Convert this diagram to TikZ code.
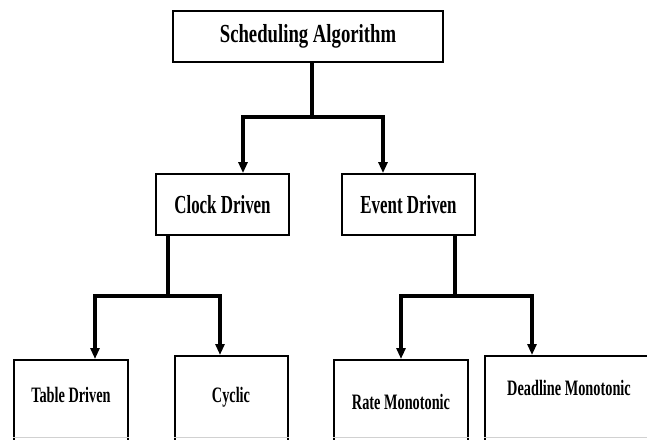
\documentclass[tikz,border=0pt]{standalone}
\usepackage{fontspec}
\setmainfont{Liberation Serif}
\newfontfamily\fwide[FakeStretch=0.72]{Liberation Serif}
\newfontfamily\fcond[FakeStretch=0.65]{Liberation Serif}
\usetikzlibrary{arrows.meta}
\begin{document}
\begin{tikzpicture}[x=1pt,y=-1pt,
  box/.style={draw=black, line width=1.8pt, inner sep=0pt, rectangle},
  stem/.style={line width=3.2pt},
  conn/.style={line width=3.2pt, line join=miter, -{Triangle[width=9pt,length=11pt]}},
  bigtxt/.style={font=\fwide\bfseries\fontsize{26}{26}\selectfont},
  midtxt/.style={font=\fcond\bfseries\fontsize{26}{26}\selectfont},
  smalltxt/.style={font=\fcond\bfseries\fontsize{22}{22}\selectfont, inner sep=0pt},
  cutedge/.style={draw=black!18, line width=1.2pt}]
\useasboundingbox (0,0) rectangle (647,439);
\clip (0,0) rectangle (647,439);

% boxes
\node[box, bigtxt, minimum width=270pt, minimum height=51pt] (top) at (308,36.5) {Scheduling Algorithm};
\node[box, midtxt, minimum width=133pt, minimum height=61pt] (clock) at (222.5,204.5) {Clock Driven};
\node[box, midtxt, minimum width=133pt, minimum height=61pt] (event) at (408.5,204.5) {Event Driven};

\node[box, anchor=north west, minimum width=114pt, minimum height=100pt] (tbl) at (13,359) {};
\node[box, anchor=north west, minimum width=113pt, minimum height=100pt] (cyc) at (174,355) {};
\node[box, anchor=north west, minimum width=134pt, minimum height=100pt] (rate) at (333,359) {};
\node[box, anchor=north west, minimum width=170pt, minimum height=100pt] (dead) at (484,355) {};

\coordinate (cut) at (0,437.6);
\draw[cutedge] (tbl.west |- cut) -- (tbl.east |- cut);
\draw[cutedge] (cyc.west |- cut) -- (cyc.east |- cut);
\draw[cutedge] (rate.west |- cut) -- (rate.east |- cut);
\draw[cutedge] (dead.west |- cut) -- (dead.east |- cut);

% labels of the bottom boxes
\node[smalltxt] (tblt) at (71,395) {Table Driven};
\node[smalltxt] (cyct) at (231,397) {Cyclic};
\node[smalltxt] (ratet) at (401,402) {Rate Monotonic};
\node[smalltxt] (deadt) at (569,388) {Deadline Monotonic};

% junctions
\coordinate (j0) at (312,117);
\coordinate (jc) at (243,117);
\coordinate (je) at (383,117);
\coordinate (k0) at (168,296);
\coordinate (kt) at (95,296);
\coordinate (kc) at (220,296);
\coordinate (m0) at (455,296);
\coordinate (mr) at (401,296);
\coordinate (md) at (532,296);

% connectors
\draw[stem] (top.south -| j0) -- (j0);
\draw[conn] (j0) -| (jc |- clock.north);
\draw[conn] (j0) -| (je |- event.north);

\draw[stem] (clock.south -| k0) -- (k0);
\draw[conn] (k0) -| (kt |- tbl.north);
\draw[conn] (k0) -| (kc |- cyc.north);

\draw[stem] (event.south -| m0) -- (m0);
\draw[conn] (m0) -| (mr |- rate.north);
\draw[conn] (m0) -| (md |- dead.north);
\end{tikzpicture}
\end{document}
